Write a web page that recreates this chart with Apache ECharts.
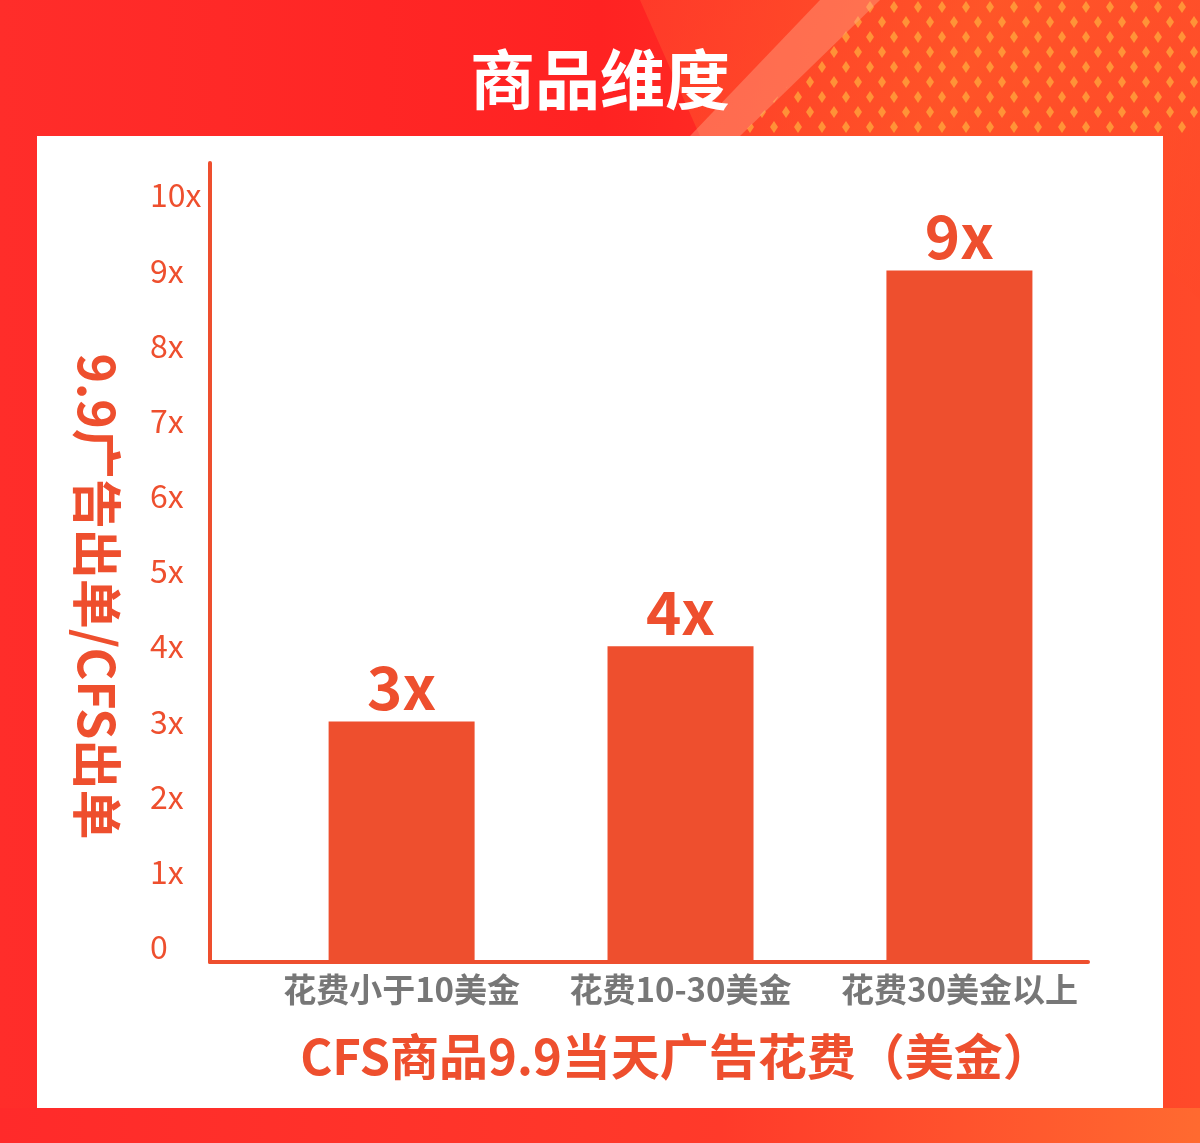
<!DOCTYPE html>
<html><head><meta charset="utf-8">
<script src="https://cdn.jsdelivr.net/npm/echarts@6/dist/echarts.min.js"></script>
<style>html,body{margin:0;padding:0;overflow:hidden;} #c{width:1200px;height:1143px;}</style>
</head><body><div id="c"></div>
<script>
const categories = ['花费小于10美金', '花费10-30美金', '花费30美金以上'];
const values = [3, 4, 9];
const valueLabels = ['3x', '4x', '9x'];
const yTickValues = [0, 1, 2, 3, 4, 5, 6, 7, 8, 9, 10];
const yTickLabels = ['0', '1x', '2x', '3x', '4x', '5x', '6x', '7x', '8x', '9x', '10x'];
const titleText = '商品维度';
const xName = 'CFS商品9.9当天广告花费（美金）';
const yName = '9.9广告出单/CFS出单';

const RED = '#ee4f2e';
const FONT = '"Noto Sans CJK SC", "Noto Sans", sans-serif';
const Y_MIN = -0.2;
const Y_MAX = 10.43;

// decorative diamond pattern tile for the header background
const tile = document.createElement('canvas');
tile.width = 24; tile.height = 30;
(function () {
  const g = tile.getContext('2d');
  g.fillStyle = 'rgba(255,170,60,0.75)';
  [[6, 7], [18, 22]].forEach(([cx, cy]) => {
    g.beginPath();
    g.moveTo(cx, cy - 6); g.lineTo(cx + 4, cy); g.lineTo(cx, cy + 6); g.lineTo(cx - 4, cy);
    g.closePath(); g.fill();
  });
})();

const chart = echarts.init(document.getElementById('c'));

chart.setOption({
  backgroundColor: new echarts.graphic.LinearGradient(0, 0, 1, 0, [
    { offset: 0, color: '#ff2d2a' },
    { offset: 0.5, color: '#ff2222' },
    { offset: 1, color: '#ff4a2a' }
  ]),
  graphic: [
    { type: 'polygon', z: -20, shape: { points: [[640, 0], [1200, 0], [1200, 300], [1030, 136], [700, 136]] },
      style: { fill: new echarts.graphic.LinearGradient(0, 0, 1, 1, [
        { offset: 0, color: 'rgba(255,90,50,0.4)' },
        { offset: 0.5, color: 'rgba(255,110,40,0.5)' },
        { offset: 1, color: 'rgba(255,70,40,0.3)' }
      ]) } },
    { type: 'polygon', z: -19, shape: { points: [[870, 0], [1200, 0], [1200, 136], [740, 136]] },
      style: { fill: { image: tile, repeat: 'repeat' } } },
    { type: 'polygon', z: -19, shape: { points: [[820, 0], [880, 0], [740, 136], [690, 136]] },
      style: { fill: 'rgba(255,170,140,0.4)' } },
    { type: 'rect', z: -18, shape: { x: 0, y: 1108, width: 1200, height: 35 },
      style: { fill: new echarts.graphic.LinearGradient(0, 0, 1, 0, [
        { offset: 0, color: '#ff2a2a' },
        { offset: 0.6, color: '#ff3a2a' },
        { offset: 1, color: '#ff6a30' }
      ]) } },
    { type: 'rect', z: -10, shape: { x: 37, y: 136, width: 1126, height: 972 }, style: { fill: '#ffffff' } }
  ],
  title: {
    text: titleText, left: 'center', top: 42,
    textStyle: { color: '#ffffff', fontSize: 65, fontWeight: 'bold', fontFamily: FONT, padding: [0, 0, 0, 8] }
  },
  grid: { left: 210, right: 112, top: 163, bottom: 181 },
  xAxis: {
    type: 'value', min: -0.687, max: 2.461,
    axisLine: { show: true, onZero: false, lineStyle: { color: RED, width: 4 } },
    axisTick: { show: false }, splitLine: { show: false },
    axisLabel: {
      customValues: [0, 1, 2],
      formatter: v => categories[Math.round(v)] || '',
      color: '#777777', fontSize: 33, fontWeight: 'bold', fontFamily: FONT, margin: 11
    },
    name: xName, nameLocation: 'middle', nameGap: 70,
    nameTextStyle: { color: RED, fontSize: 49, fontWeight: 'bold', fontFamily: FONT, padding: [0, 0, 0, 54] }
  },
  yAxis: {
    type: 'value', min: Y_MIN, max: Y_MAX,
    axisLine: { show: true, onZero: false, lineStyle: { color: RED, width: 4 } },
    axisTick: { show: false }, splitLine: { show: false },
    axisLabel: {
      customValues: yTickValues,
      formatter: v => { const i = yTickValues.indexOf(Math.round(v)); return i >= 0 ? yTickLabels[i] : ''; },
      align: 'left', margin: 60, color: RED, fontSize: 32, fontFamily: FONT
    },
    name: yName, nameLocation: 'middle', nameRotate: -90, nameGap: 88,
    nameTextStyle: { color: RED, fontSize: 50, fontWeight: 'bold', fontFamily: FONT, padding: [0, 0, 0, 68] }
  },
  series: [{
    type: 'custom',
    data: values.map((v, i) => [i, v]),
    encode: { x: 0, y: 1 },
    renderItem: (params, api) => {
      const x = api.value(0), v = api.value(1);
      const top = api.coord([x, v]);
      const base = api.coord([x, Y_MIN]);
      const w = 146;
      return {
        type: 'group',
        children: [
          { type: 'rect', shape: { x: top[0] - w / 2, y: top[1], width: w, height: base[1] - top[1] },
            style: { fill: RED } },
          { type: 'text', style: {
              text: valueLabels[params.dataIndex], x: top[0], y: top[1] - 4,
              align: 'center', verticalAlign: 'bottom', fill: RED,
              font: 'bold 60px ' + FONT } }
        ]
      };
    }
  }]
});
</script>
</body></html>
